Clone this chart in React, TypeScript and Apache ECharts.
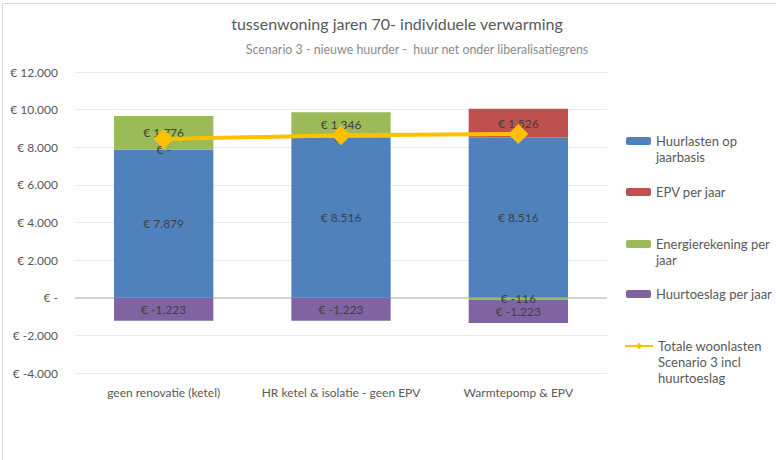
import React, { useEffect, useRef } from "react";
import * as echarts from "echarts";

const categories = ["geen renovatie (ketel)", "HR ketel & isolatie - geen EPV", "Warmtepomp & EPV"];
const huurlasten = [7879, 8516, 8516];
const epv = [0, 0, 1526];
const energie = [1776, 1346, -116];
const huurtoeslag = [-1223, -1223, -1223];
const totaal = [8432, 8639, 8703];

const seriesNames = [
  "Huurlasten op jaarbasis",
  "EPV per jaar",
  "Energierekening per jaar",
  "Huurtoeslag per jaar",
  "Totale woonlasten Scenario 3 incl huurtoeslag",
];
const legendTexts = [
  "Huurlasten op\njaarbasis",
  "EPV per jaar",
  "Energierekening per\njaar",
  "Huurtoeslag per jaar",
  "Totale woonlasten\nScenario 3 incl\nhuurtoeslag",
];

const FONT = "Lato";

function eur(v: number): string {
  if (v === 0) return "€ -";
  const s = Math.abs(Math.round(v)).toString().replace(/\B(?=(\d{3})+(?!\d))/g, ".");
  return "€ " + (v < 0 ? "-" : "") + s;
}

export default function App() {
  const ref = useRef<HTMLDivElement>(null);
  useEffect(() => {
    if (!ref.current) return;
    const chart = echarts.init(ref.current, undefined, { renderer: "svg" });
    const lh = 16;
    const centers = [141, 192, 244, 294, 346];
    const legends = seriesNames.map((name, i) => {
      const n = legendTexts[i].split("\n").length;
      const txt = " \n".repeat(n - 1) + legendTexts[i];
      return {
        show: true,
        orient: "vertical",
        left: i === 4 ? 624 : 626,
        top: centers[i] - ((2 * n - 1) * lh) / 2,
        padding: 0,
        itemWidth: i === 4 ? 28 : 25,
        itemHeight: 8,
        itemGap: 3,
        data: [name],
        formatter: () => txt,
        textStyle: {
          fontFamily: FONT,
          fontSize: 13,
          color: "#595959",
          lineHeight: lh,
        },
        selectedMode: false,
      };
    });
    const labelStyle = {
      show: true,
      position: "inside",
      fontFamily: FONT,
      fontSize: 12,
      color: "#404040",
      formatter: (p: any) => eur(p.value),
    };
    chart.setOption({
      animation: false,
      backgroundColor: "#ffffff",
      title: [
        {
          text: "tussenwoning jaren 70- individuele verwarming",
          left: 392,
          top: 10,
          textAlign: "center",
          textStyle: { fontFamily: FONT, fontSize: 16, fontWeight: "normal", color: "#595959" },
        },
        {
          text: "Scenario 3 - nieuwe huurder -  huur net onder liberalisatiegrens",
          left: 412,
          top: 38,
          textAlign: "center",
          textStyle: { fontFamily: FONT, fontSize: 12.4, fontWeight: "normal", color: "#8c8c8c" },
        },
      ],
      legend: legends,
      grid: { left: 75, right: 169, top: 72, bottom: 87, containLabel: false },
      xAxis: {
        type: "category",
        data: categories,
        axisLine: { show: false, onZero: false },
        axisTick: { show: false },
        axisLabel: { fontFamily: FONT, fontSize: 12, color: "#595959", margin: 13, interval: 0 },
      },
      yAxis: {
        type: "value",
        min: -4000,
        max: 12000,
        interval: 2000,
        axisLine: { show: false },
        axisTick: { show: false },
        axisLabel: {
          fontFamily: FONT,
          fontSize: 12,
          color: "#595959",
          margin: 17,
          formatter: (v: number) => eur(v),
        },
        splitLine: { show: true, lineStyle: { color: "#e9e9e9", width: 1 } },
      },
      series: [
        {
          name: seriesNames[0],
          type: "bar",
          stack: "a",
          barWidth: "56%",
          data: huurlasten,
          itemStyle: { color: "#4F81BD" },
          label: labelStyle,
          markLine: {
            silent: true,
            z: 1,
            symbol: "none",
            label: { show: false },
            lineStyle: { color: "#d4d4d4", width: 2, type: "solid" },
            data: [{ yAxis: 0 }],
          },
        },
        {
          name: seriesNames[1],
          type: "bar",
          stack: "a",
          data: epv,
          itemStyle: { color: "#C0504D" },
          label: labelStyle,
        },
        {
          name: seriesNames[2],
          type: "bar",
          stack: "a",
          data: energie,
          itemStyle: { color: "#9BBB59" },
          label: labelStyle,
        },
        {
          name: seriesNames[3],
          type: "bar",
          stack: "a",
          data: huurtoeslag,
          itemStyle: { color: "#8064A2" },
          label: labelStyle,
        },
        {
          name: seriesNames[4],
          type: "line",
          data: totaal,
          symbol: "diamond",
          symbolSize: 20,
          lineStyle: { color: "#FFC000", width: 4 },
          itemStyle: { color: "#FFC000" },
          z: 10,
        },
      ],
      graphic: [
        {
          type: "rect",
          shape: { x: 2.5, y: 3.5, width: 820, height: 500 },
          style: { fill: "none", stroke: "#d9d9d9", lineWidth: 1 },
          silent: true,
        },
      ],
    });
    return () => chart.dispose();
  }, []);
  return (
    <div
      ref={ref}
      style={{ position: "fixed", left: 0, top: 0, width: 776, height: 460 }}
    />
  );
}
